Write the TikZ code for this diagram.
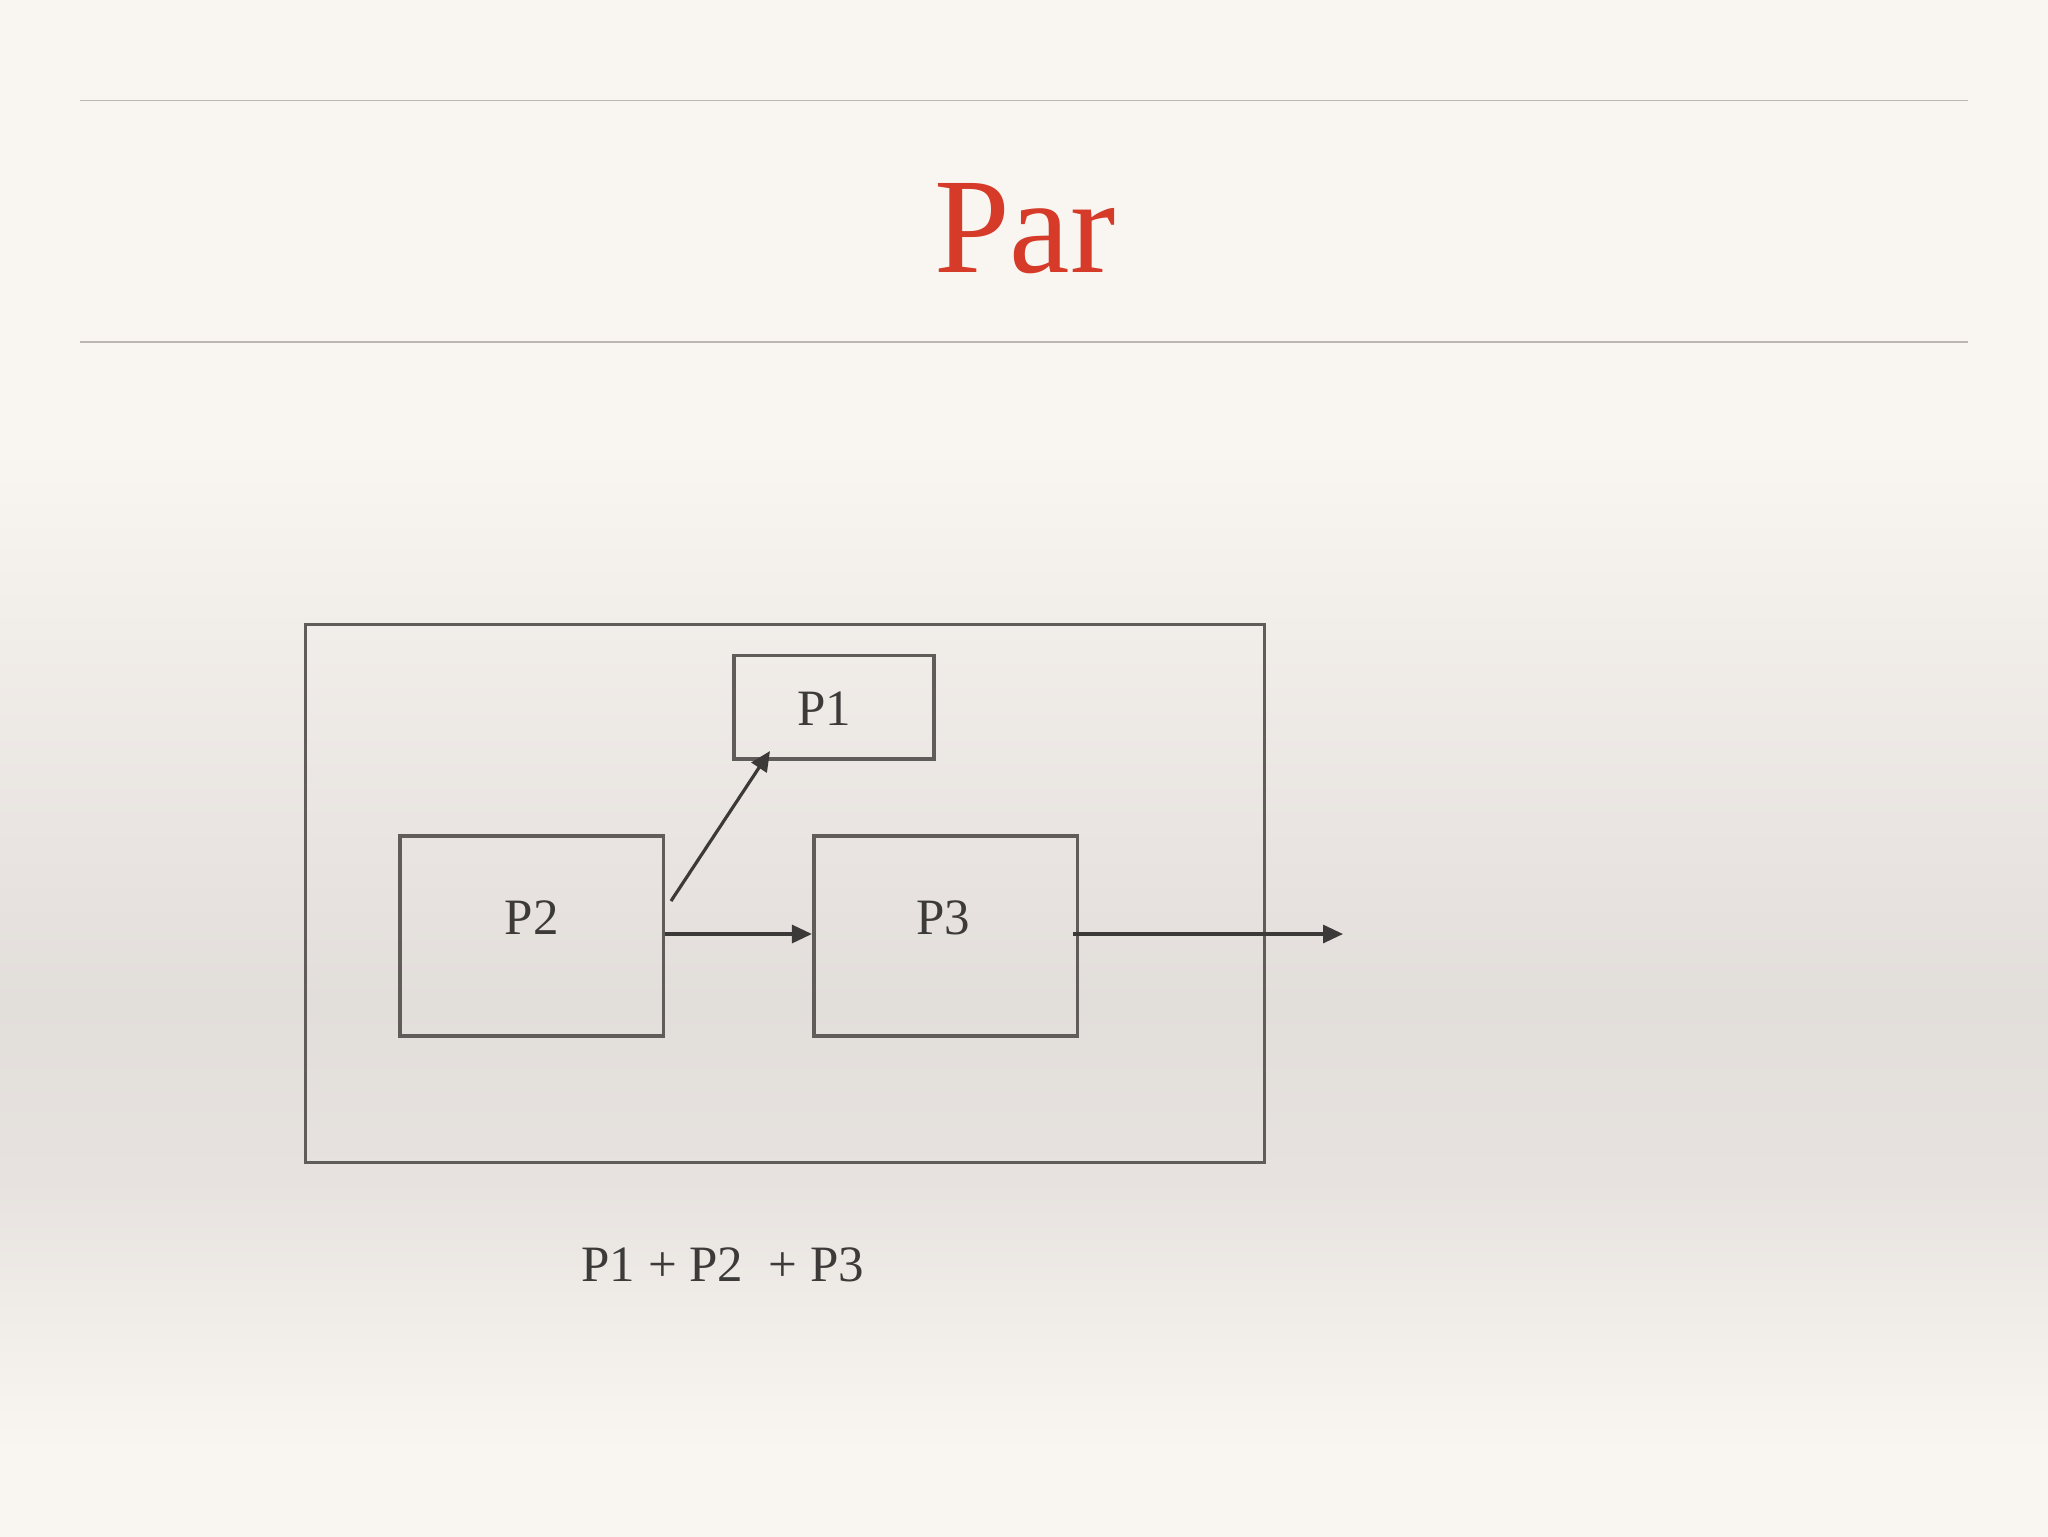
\documentclass[tikz,border=0pt]{standalone}
\usepackage{fontspec}
\setmainfont{Liberation Serif}
\usetikzlibrary{arrows.meta,positioning,calc}
\definecolor{bgl}{HTML}{F9F6F2}
\definecolor{bgm}{HTML}{F0ECE8}
\definecolor{bgd}{HTML}{E2DEDA}
\definecolor{bgd2}{HTML}{E7E2DF}
\definecolor{bgm2}{HTML}{EFEBE7}
\definecolor{rulec}{HTML}{BDB7B2}
\definecolor{boxc}{HTML}{605C59}
\definecolor{arrc}{HTML}{3C3A38}
\definecolor{txtc}{HTML}{3D3B39}
\definecolor{titlec}{HTML}{D63A28}
\pgfdeclareverticalshading{bgshade}{100bp}{%
  color(0bp)=(bgl);
  color(27.8bp)=(bgl);
  color(32.7bp)=(bgm2);
  color(36.6bp)=(bgd2);
  color(42.4bp)=(bgd);
  color(45.7bp)=(bgd2);
  color(53.8bp)=(bgm);
  color(60.4bp)=(bgl);
  color(100bp)=(bgl)}
\tikzset{
  procbox/.style={draw=boxc, line width=1.8bp, rectangle, inner sep=0pt},
  lbl/.style={text=txtc, font=\fontsize{25.5bp}{30bp}\selectfont, inner sep=0pt},
  conn/.style={draw=arrc, line width=1.6bp, -{Triangle[length=10bp,width=9bp]}},
  hrule/.style={draw=rulec, line width=0.8bp}
}
\begin{document}
\begin{tikzpicture}[x=0.5bp,y=-0.5bp]
  \shade[shading=bgshade] (0,0) rectangle (2048,1536);
  \useasboundingbox (0,0) rectangle (2048,1536);
  % rules
  \draw[hrule] (80,100.6) -- (1968,100.6);
  \draw[hrule] (80,342) -- (1968,342);
  % title
  \node[anchor=base, text=titlec, inner sep=0pt, font=\fontsize{68bp}{76bp}\selectfont] (title) at (1025,272) {Par};
  % boxes
  \node[procbox, minimum width=479.4bp, minimum height=269bp] (outer) at (785,893.3) {};
  \node[procbox, minimum width=100bp, minimum height=51.6bp] (p1) at (834,707.2) {};
  \node[procbox, minimum width=131.9bp, minimum height=99.9bp] (p2) at (531.6,935.8) {};
  \node[procbox, minimum width=131.9bp, minimum height=99.9bp] (p3) at (945.6,935.8) {};
  % labels
  \node[lbl] (p1t) at (824,709) {P1};
  \node[lbl] (p2t) at (531.6,918) {P2};
  \node[lbl] (p3t) at (943,918) {P3};
  % connectors
  \coordinate (d1) at (671,901);
  \coordinate (d2) at (770,751);
  \coordinate (out) at (1343,934);
  \draw[conn] (d1) -- (d2);
  \draw[conn] (p2.east |- 0,934) -- (p3.west |- 0,934);
  \draw[conn] (1073,934) -- (out);
  % formula
  \node[lbl, anchor=base west] (sum) at (581,1281) {P1 + P2\ \ + P3};
\end{tikzpicture}
\end{document}
